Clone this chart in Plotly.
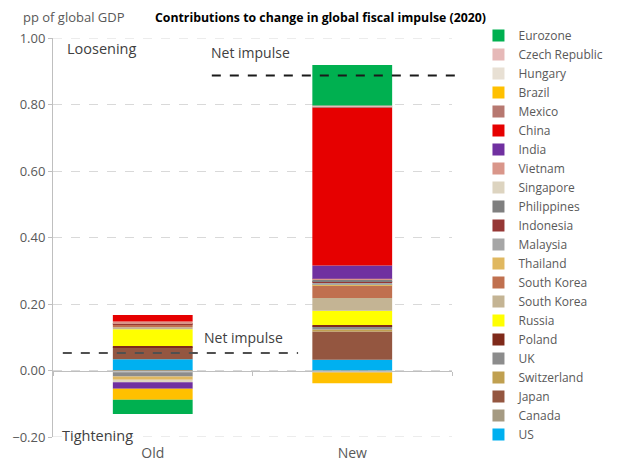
import plotly.graph_objects as go

# Scenario columns
scenarios = ["Old", "New"]

# Countries in stacking order (bottom of the stack first)
countries = ["US", "Canada", "Japan", "Switzerland", "UK", "Poland", "Russia",
             "South Korea", "South Korea", "Thailand", "Malaysia", "Indonesia",
             "Philippines", "Singapore", "Vietnam", "India", "China", "Mexico",
             "Brazil", "Hungary", "Czech Republic", "Eurozone"]

colors = ["#00b0f0", "#a59a82", "#945640", "#c0a050", "#8c8c8c", "#7f2a1a", "#ffff00",
          "#c4b494", "#c0704f", "#e0b860", "#a6a6a6", "#953735",
          "#7f7f7f", "#ddd4c0", "#d9968a", "#7030a0", "#e60000", "#b77870",
          "#ffc000", "#e8e0d4", "#e6b9b8", "#00b050"]

# Contributions, pp of global GDP
old_values = [0.034, -0.005, 0.036, 0.000, -0.013, 0.004, 0.050,
              0.006, 0.008, -0.010, 0.000, 0.004,
              0.000, -0.007, 0.005, -0.020, 0.020, 0.000,
              -0.033, 0.000, 0.000, -0.043]
new_values = [0.032, -0.006, 0.085, 0.006, 0.009, 0.005, 0.043,
              0.038, 0.038, 0.003, 0.006, 0.002,
              0.006, 0.002, 0.001, 0.040, 0.474, 0.004,
              -0.032, 0.001, 0.002, 0.122]

# Net fiscal impulse for each scenario
net_impulse = [0.053, 0.887]

y_range = [-0.2, 1.0]
y_ticks = [-0.2, 0.0, 0.2, 0.4, 0.6, 0.8, 1.0]

FONT = "Open Sans"
GREY_TXT = "#595959"
GRID = "#d9d9d9"

fig = go.Figure()
for name, col, vo, vn in zip(countries, colors, old_values, new_values):
    fig.add_trace(go.Bar(
        x=scenarios, y=[vo, vn], name=name,
        marker=dict(color=col, line=dict(width=0)),
        width=0.4,
    ))

# carrier for the bottom category labels
fig.add_trace(go.Scatter(x=scenarios, y=[None, None], xaxis="x2",
                         showlegend=False, hoverinfo="skip", mode="markers"))

fig.update_layout(
    width=621, height=463, autosize=False,
    margin=dict(l=53, r=161, t=38, b=26),
    paper_bgcolor="white", plot_bgcolor="white",
    barmode="relative",
    font=dict(family=FONT, color=GREY_TXT, size=12),
    showlegend=True,
    legend=dict(
        traceorder="reversed", tracegroupgap=0,
        x=(487 - 53) / 407, xanchor="left",
        y=1.0 + 17 / 399, yanchor="top",
        font=dict(family=FONT, size=12, color=GREY_TXT),
        bgcolor="rgba(0,0,0,0)", borderwidth=0,
        itemwidth=30, maxheight=463,
    ),
    xaxis=dict(
        type="category", categoryorder="array", categoryarray=scenarios,
        range=[-0.5, 1.5], anchor="free", position=0.2 / 1.2,
        showline=True, linecolor="#bfbfbf", linewidth=1,
        ticks="outside", tickson="boundaries", ticklen=4, tickcolor="#bfbfbf",
        showticklabels=False, showgrid=False, zeroline=False, automargin=False,
    ),
    xaxis2=dict(
        type="category", categoryorder="array", categoryarray=scenarios,
        range=[-0.5, 1.5], overlaying="x", anchor="y", side="bottom",
        showline=False, ticks="", showgrid=False, zeroline=False,
        ticklabelstandoff=6, automargin=False,
        tickfont=dict(family=FONT, size=14, color=GREY_TXT),
    ),
    yaxis=dict(
        range=y_range, tickvals=y_ticks, tickformat=".2f",
        showline=True, linecolor="#bfbfbf", linewidth=1,
        ticks="outside", ticklen=4, tickcolor="#bfbfbf",
        tickfont=dict(family=FONT, size=13, color=GREY_TXT),
        showgrid=True, gridcolor=GRID, griddash="dash", gridwidth=1,
        zeroline=False, automargin=False,
    ),
)

# dashed gridlines at the two ends of the value range
for yv in y_range:
    fig.add_shape(type="line", xref="paper", yref="y", x0=0, x1=1, y0=yv, y1=yv,
                  line=dict(color=GRID, width=1, dash="dash"), layer="below")

# Net impulse markers
fig.add_shape(type="line", xref="paper", yref="y",
              x0=(63 - 53) / 407, x1=(303 - 53) / 407,
              y0=net_impulse[0], y1=net_impulse[0],
              line=dict(color="#505050", width=2, dash="dash"))
fig.add_shape(type="line", xref="paper", yref="y",
              x0=(215 - 53) / 407, x1=(472 - 53) / 407,
              y0=net_impulse[1], y1=net_impulse[1],
              line=dict(color="#1a1a1a", width=2, dash="dash"))


def note(text, px, py, size=14, color="#404040", bold=False):
    fig.add_annotation(
        text=f"<b>{text}</b>" if bold else text,
        xref="paper", yref="paper",
        x=(px - 53) / 407, y=(437 - py) / 399,
        xanchor="left", yanchor="middle", showarrow=False,
        font=dict(family=FONT, size=size, color=color),
    )


note("pp of global GDP", 20, 17, size=13, color=GREY_TXT)
note("Contributions to change in global fiscal impulse (2020)", 155, 17, size=12.3, color="#000000", bold=True)
note("Loosening", 65, 48, size=14.5)
note("Tightening", 60, 435, size=14.5)
note("Net impulse", 212, 52)
note("Net impulse", 205, 337)

fig.write_html("out.html")
